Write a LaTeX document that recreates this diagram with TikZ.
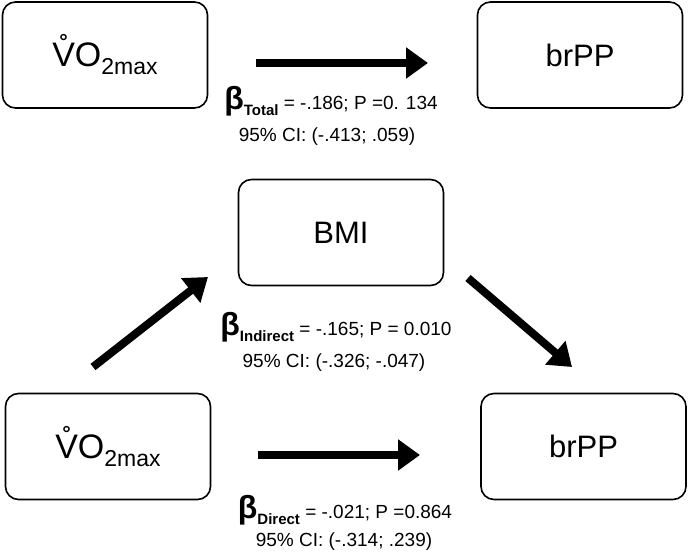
\documentclass[tikz,border=0pt]{standalone}
\usepackage{fontspec}
\setmainfont{Liberation Sans}
\usetikzlibrary{arrows.meta}
\newcommand{\vomax}{{\fontsize{34}{34}\selectfont\r{V}O}\raisebox{-8pt}{\fontsize{23}{23}\selectfont 2max}}
\newcommand{\bsub}[1]{{\fontsize{32}{32}\selectfont\bfseries β}\raisebox{-6.5pt}{\fontsize{15}{15}\selectfont\bfseries #1}}
\begin{document}
\begin{tikzpicture}[x=1pt,y=-1pt,
  box/.style={draw, line width=1.6pt, rounded corners=13pt, minimum width=205pt, minimum height=106pt, font=\fontsize{31}{31}\selectfont, inner sep=0pt},
  arr/.style={line width=8pt, -{Triangle[length=22pt,width=30pt]}},
  lab/.style={font=\fontsize{19}{19}\selectfont, inner sep=0pt, anchor=center}]
\useasboundingbox (0,0) rectangle (688,556);
% boxes
\node[box] (v1) at (105,55) {\vomax};
\node[box] (b1) at (580,55) {brPP};
\node[box] (bmi) at (341,232.5) {BMI};
\node[box] (v2) at (108,446.5) {\vomax};
\node[box] (b2) at (583.5,446.5) {brPP};
% arrow end points
\coordinate (t1) at (256,63);
\coordinate (t2) at (428,63);
\coordinate (d1) at (93,367);
\coordinate (d2) at (208,277);
\coordinate (e1) at (468,278);
\coordinate (e2) at (572,367);
\coordinate (f1) at (258,455);
\coordinate (f2) at (420,455);
\draw[arr] (t1) -- (t2);
\draw[arr] (d1) -- (d2);
\draw[arr] (e1) -- (e2);
\draw[arr] (f1) -- (f2);
% labels
\node[lab] (l1a) at (331,101) {\bsub{Total} = -.186; P =0. 134};
\node[lab] (l1b) at (327,137) {95\% CI: (-.413; .059)};
\node[lab] (l2a) at (336,327) {\bsub{Indirect} = -.165; P = 0.010};
\node[lab] (l2b) at (334,363) {95\% CI: (-.326; -.047)};
\node[lab] (l3a) at (345,510) {\bsub{Direct} = -.021; P =0.864};
\node[lab] (l3b) at (344,542) {95\% CI: (-.314; .239)};
\end{tikzpicture}
\end{document}
